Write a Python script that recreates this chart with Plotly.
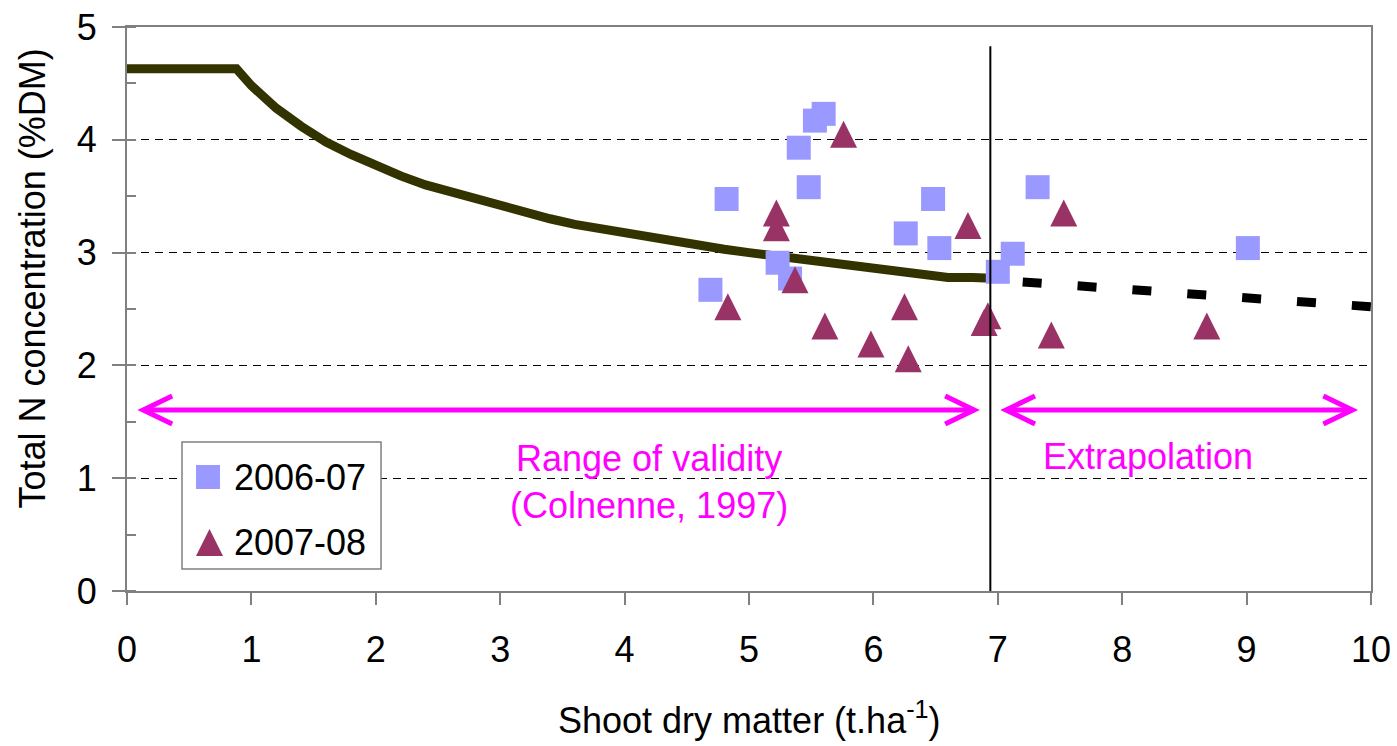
import plotly.graph_objects as go

# ---- data ----
curve_x = [0, 0.88, 1.0, 1.2, 1.4, 1.6, 1.8, 2.0, 2.2, 2.4, 2.6, 2.8, 3.0, 3.2, 3.4,
           3.6, 3.8, 4.0, 4.2, 4.4, 4.6, 4.8, 5.0, 5.2, 5.4, 5.6, 5.8, 6.0, 6.2,
           6.4, 6.6, 6.8, 7.0]
curve_y = [4.63, 4.63, 4.48, 4.28, 4.12, 3.98, 3.87, 3.77, 3.68, 3.60, 3.54, 3.46,
           3.40, 3.35, 3.30, 3.25, 3.21, 3.17, 3.13, 3.09, 3.06, 3.03, 3.00, 2.97,
           2.94, 2.91, 2.89, 2.86, 2.84, 2.81, 2.78, 2.78, 2.77]
extra_x = [7.2, 7.6, 8.0, 8.4, 8.8, 9.2, 9.6, 10.0]
extra_y = [2.74, 2.71, 2.67, 2.65, 2.62, 2.59, 2.56, 2.52]

s0607_x = [4.69, 4.82, 5.23, 5.33, 5.40, 5.48, 5.53, 5.60, 6.26, 6.48, 6.53, 7.00, 7.12, 7.32, 9.01]
s0607_y = [2.67, 3.475, 2.91, 2.77, 3.93, 3.58, 4.17, 4.23, 3.17, 3.475, 3.04, 2.83, 2.99, 3.58, 3.04]

s0708_x = [4.83, 5.22, 5.22, 5.37, 5.76, 5.61, 5.98, 6.25, 6.28, 6.76, 6.89, 6.92, 7.43, 7.53, 8.68]
s0708_y = [2.52, 3.35, 3.22, 2.76, 4.05, 2.35, 2.19, 2.52, 2.06, 3.24, 2.38, 2.44, 2.27, 3.35, 2.35]

x_ticks = [0, 1, 2, 3, 4, 5, 6, 7, 8, 9, 10]
y_ticks = [0, 1, 2, 3, 4, 5]
series_names = ["2006-07", "2007-08"]

# ---- style ----
FONT = "Liberation Sans, Arial, sans-serif"
FS = 36
MAGENTA = "#FF00FF"
SQ_COL = "#9999FF"
TRI_COL = "#993366"
CURVE_COL = "#333300"
AXIS_COL = "#808080"
TRI_SIZE = 27
PX_PER_Y = 564 / 5.0
tri_shift = (TRI_SIZE / 2) / PX_PER_Y

fig = go.Figure()

fig.add_trace(go.Scatter(x=curve_x, y=curve_y, mode="lines",
                         line=dict(color=CURVE_COL, width=9),
                         showlegend=False, hoverinfo="skip"))
fig.add_trace(go.Scatter(x=extra_x, y=extra_y, mode="lines",
                         line=dict(color="black", width=9, dash="19px,36px"),
                         showlegend=False, hoverinfo="skip"))
fig.add_trace(go.Scatter(x=s0607_x, y=s0607_y, mode="markers", name=series_names[0],
                         marker=dict(symbol="square", size=24, color=SQ_COL,
                                     line=dict(width=0)),
                         showlegend=False))
fig.add_trace(go.Scatter(x=s0708_x, y=s0708_y, mode="markers", name=series_names[1],
                         yaxis="y2",
                         marker=dict(symbol="arrow-up", size=TRI_SIZE, color=TRI_COL,
                                     line=dict(width=0)),
                         showlegend=False))

# vertical separator
fig.add_shape(type="line", xref="x", yref="y", x0=6.94, x1=6.94, y0=0, y1=4.83,
              line=dict(color="black", width=2), layer="above")

# arrows
ARROW_Y = 1.605
for (xa, xb) in [(0.13, 6.81), (7.066, 9.85)]:
    fig.add_shape(type="line", xref="x", yref="y", x0=xa, x1=xb, y0=ARROW_Y, y1=ARROW_Y,
                  line=dict(color=MAGENTA, width=5), layer="above")
    fig.add_shape(type="path", xref="x", yref="y", xsizemode="pixel", ysizemode="pixel",
                  xanchor=xa, yanchor=ARROW_Y, path="M29,14 L0,0 L29,-14",
                  line=dict(color=MAGENTA, width=5), layer="above")
    fig.add_shape(type="path", xref="x", yref="y", xsizemode="pixel", ysizemode="pixel",
                  xanchor=xb, yanchor=ARROW_Y, path="M-29,14 L0,0 L-29,-14",
                  line=dict(color=MAGENTA, width=5), layer="above")

fig.add_annotation(x=4.196, y=0.97, xref="x", yref="y",
                   text="Range of validity<br>(Colnenne, 1997)", showarrow=False,
                   font=dict(family=FONT, size=FS, color=MAGENTA), align="center",
                   xanchor="center", yanchor="middle")
fig.add_annotation(x=8.21, y=1.19, xref="x", yref="y", text="Extrapolation",
                   showarrow=False, font=dict(family=FONT, size=FS, color=MAGENTA),
                   xanchor="center", yanchor="middle")

# manual legend
fig.add_shape(type="rect", xref="paper", yref="paper", x0=0.0442, x1=0.2042,
              y0=0.039, y1=0.2642, fillcolor="white",
              line=dict(color=AXIS_COL, width=1.5), layer="above")
fig.add_shape(type="rect", xref="paper", yref="paper", xsizemode="pixel", ysizemode="pixel",
              xanchor=0.0651, yanchor=0.2021, x0=-12, x1=12, y0=-12, y1=12,
              fillcolor=SQ_COL, line=dict(width=0), layer="above")
fig.add_shape(type="path", xref="paper", yref="paper", xsizemode="pixel", ysizemode="pixel",
              xanchor=0.0663, yanchor=0.086, path="M-13.5,-13.5 L13.5,-13.5 L0,13.5 Z",
              fillcolor=TRI_COL, line=dict(width=0), layer="above")
fig.add_annotation(x=0.0844, y=0.2021, xref="paper", yref="paper", text=series_names[0],
                   showarrow=False, font=dict(family=FONT, size=FS, color="black"),
                   xanchor="left", yanchor="middle")
fig.add_annotation(x=0.0844, y=0.086, xref="paper", yref="paper", text=series_names[1],
                   showarrow=False, font=dict(family=FONT, size=FS, color="black"),
                   xanchor="left", yanchor="middle")

# axis titles
fig.add_annotation(x=0.5, y=-0.2252, xref="paper", yref="paper",
                   text="Shoot dry matter (t.ha<sup>-1</sup>)", showarrow=False,
                   font=dict(family=FONT, size=FS, color="black"),
                   xanchor="center", yanchor="middle")
fig.add_annotation(x=-0.0756, y=0.554, xref="paper", yref="paper",
                   text="Total N concentration (%DM)", showarrow=False, textangle=-90,
                   font=dict(family=FONT, size=FS, color="black"),
                   xanchor="center", yanchor="middle")

fig.update_layout(
    width=1397, height=746,
    margin=dict(l=127, r=26, t=27, b=155, autoexpand=False),
    paper_bgcolor="white", plot_bgcolor="white",
    font=dict(family=FONT, size=FS, color="black"),
    showlegend=False,
    xaxis=dict(range=[0, 10], tickvals=x_ticks, ticktext=[str(v) for v in x_ticks],
               automargin=False,
               showgrid=False, zeroline=False, showline=True, linecolor=AXIS_COL,
               linewidth=2, mirror=True, ticks="outside", ticklen=12, tickwidth=2,
               tickcolor=AXIS_COL, tickfont=dict(size=FS), ticklabelstandoff=14),
    yaxis=dict(range=[0, 5], tickvals=y_ticks, ticktext=[str(v) for v in y_ticks],
               automargin=False,
               showgrid=True, gridcolor="black", gridwidth=1, griddash="8px,6px",
               zeroline=False, showline=True, linecolor=AXIS_COL, linewidth=2,
               mirror=True, ticks="outside", ticklen=13, tickwidth=2, tickcolor=AXIS_COL,
               tickfont=dict(size=FS), ticklabelstandoff=8,
               minor=dict(dtick=0.5, ticks="inside", ticklen=9, tickwidth=2,
                          tickcolor=AXIS_COL, showgrid=False)),
    yaxis2=dict(range=[-tri_shift, 5 - tri_shift], overlaying="y", visible=False,
                automargin=False, showgrid=False, zeroline=False),
)

fig.write_html("out.html")
